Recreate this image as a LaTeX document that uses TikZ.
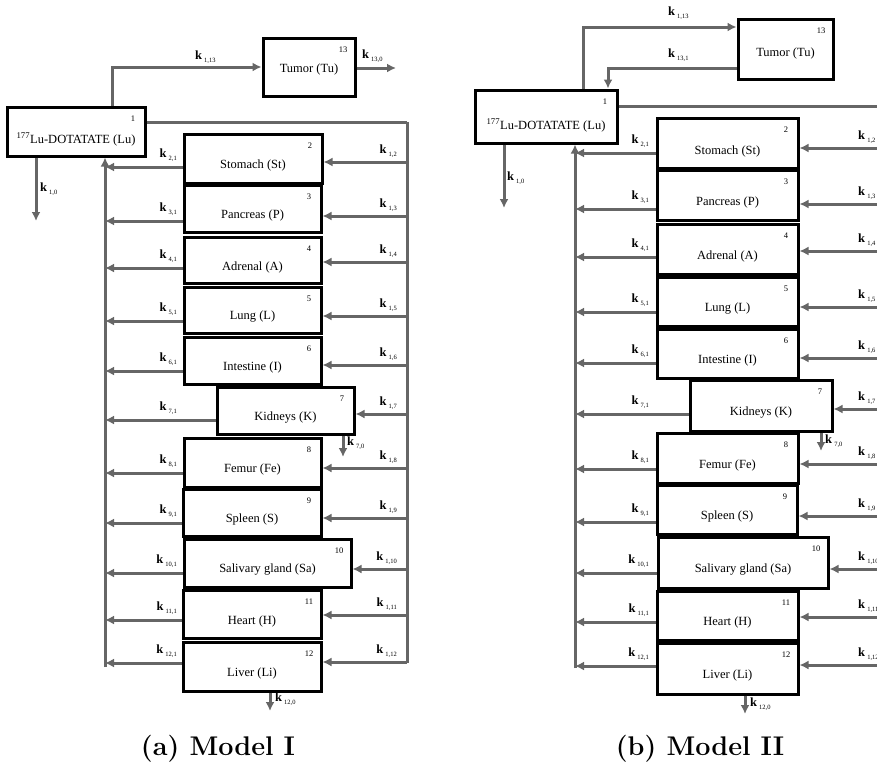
\documentclass[tikz,border=0pt]{standalone}
\usepackage{fontspec}
\newfontfamily\boxfont{Liberation Serif}
\usetikzlibrary{arrows.meta}
\definecolor{flow}{HTML}{666666}
\newcommand{\kk}[1]{\textbf{k}\,\raisebox{-3.5pt}{\fontsize{6.5}{7}\selectfont #1}}
% box: name, x1, y1, x2, y2, text, number, text offset
\newcommand{\comp}[8]{%
  \node[compbox, minimum width={(#4-#2)*1pt}, minimum height={(#5-#3)*1pt}] (#1) at ({(#2+#4)/2},{(#3+#5)/2}) {};
  \node[boxlab] (#1t) at ({(#2+#4)/2},{(#3+#5)/2+#8}) {#6};
  \node[boxnum] (#1n) at ({#4-12},{#3+12}) {#7};
}
% links: name, left y, right y, left rail x, right rail x, index, left label x, right label x, right label anchor
\newcommand{\links}[9]{%
  \draw[arr] (#1.west |- 0,#2) -- (#4,#2);
  \draw[arr] (#5,#3) -- (#1.east |- 0,#3);
  \node[klab, anchor=base east] (#1kl) at (#7,{#2-10}) {\kk{#6,1}};
  \node[klab, anchor=base #9] (#1kr) at (#8,{#3-9}) {\kk{1,#6}};
}
\tikzset{
  compbox/.style={draw=black, line width=3pt, inner sep=0pt, fill=white},
  boxlab/.style={font=\boxfont\fontsize{12.5}{13}\selectfont, inner sep=0pt},
  boxnum/.style={font=\boxfont\fontsize{8.5}{9}\selectfont, inner sep=0pt},
  klab/.style={font=\boxfont\fontsize{12.5}{13}\selectfont, inner sep=0pt},
  arr/.style={draw=flow, line width=3pt, -{Latex[length=9pt,width=9pt]}},
  line/.style={draw=flow, line width=3pt},
  captext/.style={font=\bfseries\fontsize{27}{30}\selectfont, inner sep=0pt, anchor=base}
}
\begin{document}
\begin{tikzpicture}[x=1pt,y=-1pt]
\useasboundingbox (0,0) rectangle (877,763);
\clip (0,0) rectangle (877,763);
\fill[white] (0,0) rectangle (877,763);

% ================= Model I =================
\draw[line] (105,667) -- (105,200);
\draw[line] (407,122) -- (407,663);
\comp{LuA}{7}{107}{145}{156}{\textsuperscript{177}Lu-DOTATATE (Lu)}{1}{8}
\comp{TuA}{263}{38}{355}{96}{Tumor (Tu)}{13}{2}
\comp{StA}{184}{134}{322}{183}{Stomach (St)}{2}{7}
\comp{PaA}{184}{185}{321}{232}{Pancreas (P)}{3}{7}
\comp{AdA}{184}{237}{321}{283}{Adrenal (A)}{4}{7}
\comp{LgA}{184}{287}{321}{333}{Lung (L)}{5}{7}
\comp{InA}{184}{337}{321}{384}{Intestine (I)}{6}{7}
\comp{KiA}{217}{387}{354}{434}{Kidneys (K)}{7}{7}
\comp{FeA}{184}{438}{321}{487}{Femur (Fe)}{8}{7}
\comp{SpA}{183}{489}{321}{536}{Spleen (S)}{9}{7}
\comp{SaA}{184}{539}{351}{587}{Salivary gland (Sa)}{10}{7}
\comp{HeA}{183}{590}{321}{638}{Heart (H)}{11}{7}
\comp{LiA}{183}{642}{321}{691}{Liver (Li)}{12}{7}

\draw[arr] (105,205) -- (105,0 |- LuA.south);
\draw[line] (LuA.east |- 0,122) -- (407,122);
\draw[arr] (112,0 |- LuA.north) -- (112,67) -- (TuA.west |- 0,67);
\node[klab, anchor=base west] (k113A) at (195,59) {\kk{1,13}};
\draw[arr] (TuA.east |- 0,68) -- (396,68);
\node[klab, anchor=base west] (k130A) at (362,58) {\kk{13,0}};
\draw[arr] (36,0 |- LuA.south) -- (36,221);
\node[klab, anchor=base west] (k10A) at (40,191) {\kk{1,0}};
\draw[arr] (343,0 |- KiA.south) -- (343,457);
\node[klab, anchor=base west] (k70A) at (347,445) {\kk{7,0}};
\draw[arr] (270,0 |- LiA.south) -- (270,711);
\node[klab, anchor=base west] (k120A) at (275,701) {\kk{12,0}};

\links{StA}{167}{162}{105}{407}{2}{177}{397}{east}
\links{PaA}{221}{216}{105}{407}{3}{177}{397}{east}
\links{AdA}{268}{262}{105}{407}{4}{177}{397}{east}
\links{LgA}{321}{316}{105}{407}{5}{177}{397}{east}
\links{InA}{371}{365}{105}{407}{6}{177}{397}{east}
\links{KiA}{420}{414}{105}{407}{7}{177}{397}{east}
\links{FeA}{473}{468}{105}{407}{8}{177}{397}{east}
\links{SpA}{523}{518}{105}{407}{9}{177}{397}{east}
\links{SaA}{573}{569}{105}{407}{10}{177}{397}{east}
\links{HeA}{620}{615}{105}{407}{11}{177}{397}{east}
\links{LiA}{663}{662}{105}{407}{12}{177}{397}{east}

\node[captext] (capA) at (218,755) {(a) Model I};

% ================= Model II =================
\draw[line] (575,668) -- (575,190);
\comp{LuB}{475}{90}{617}{143}{\textsuperscript{177}Lu-DOTATATE (Lu)}{1}{9}
\comp{TuB}{738}{19}{833}{79}{Tumor (Tu)}{13}{4}
\comp{StB}{657}{118}{798}{168}{Stomach (St)}{2}{8}
\comp{PaB}{657}{170}{798}{220}{Pancreas (P)}{3}{7}
\comp{AdB}{657}{224}{798}{274}{Adrenal (A)}{4}{7}
\comp{LgB}{657}{277}{798}{326}{Lung (L)}{5}{7}
\comp{InB}{657}{329}{798}{378}{Intestine (I)}{6}{7}
\comp{KiB}{690}{380}{832}{431}{Kidneys (K)}{7}{7}
\comp{FeB}{657}{433}{798}{483}{Femur (Fe)}{8}{7}
\comp{SpB}{657}{485}{797}{534}{Spleen (S)}{9}{7}
\comp{SaB}{658}{537}{828}{588}{Salivary gland (Sa)}{10}{7}
\comp{HeB}{657}{591}{798}{640}{Heart (H)}{11}{7}
\comp{LiB}{657}{643}{798}{694}{Liver (Li)}{12}{7}

\draw[arr] (575,195) -- (575,0 |- LuB.south);
\draw[line] (LuB.east |- 0,106) -- (885,106);
\draw[arr] (583,0 |- LuB.north) -- (583,27) -- (TuB.west |- 0,27);
\node[klab, anchor=base west] (k113B) at (668,15) {\kk{1,13}};
\draw[arr] (TuB.west |- 0,68) -- (608,68) -- (608,0 |- LuB.north);
\node[klab, anchor=base west] (k131B) at (668,57) {\kk{13,1}};
\draw[arr] (504,0 |- LuB.south) -- (504,208);
\node[klab, anchor=base west] (k10B) at (507,180) {\kk{1,0}};
\draw[arr] (821,0 |- KiB.south) -- (821,451);
\node[klab, anchor=base west] (k70B) at (825,443) {\kk{7,0}};
\draw[arr] (745,0 |- LiB.south) -- (745,714);
\node[klab, anchor=base west] (k120B) at (750,706) {\kk{12,0}};

\links{StB}{153}{148}{575}{885}{2}{649}{858}{west}
\links{PaB}{209}{204}{575}{885}{3}{649}{858}{west}
\links{AdB}{257}{251}{575}{885}{4}{649}{858}{west}
\links{LgB}{312}{307}{575}{885}{5}{649}{858}{west}
\links{InB}{363}{358}{575}{885}{6}{649}{858}{west}
\links{KiB}{414}{409}{575}{885}{7}{649}{858}{west}
\links{FeB}{469}{464}{575}{885}{8}{649}{858}{west}
\links{SpB}{522}{516}{575}{885}{9}{649}{858}{west}
\links{SaB}{573}{569}{575}{885}{10}{649}{858}{west}
\links{HeB}{622}{617}{575}{885}{11}{649}{858}{west}
\links{LiB}{666}{665}{575}{885}{12}{649}{858}{west}

\node[captext] (capB) at (700,755) {(b) Model II};
\end{tikzpicture}
\end{document}
